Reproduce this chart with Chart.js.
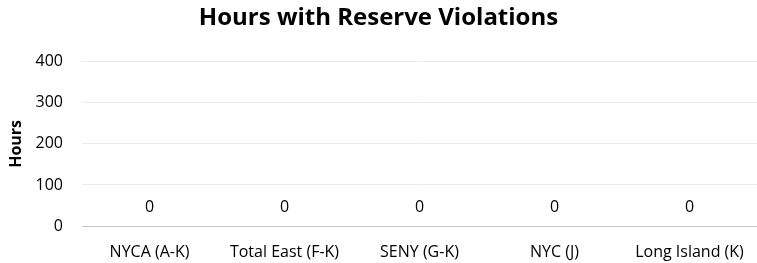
<!DOCTYPE html>
<html>
<head>
<meta charset="utf-8">
<script src="https://cdn.jsdelivr.net/npm/chart.js@4/dist/chart.umd.min.js"></script>
<style>
  html, body { margin: 0; padding: 0; background: #fff; }
  #wrap { width: 757px; height: 263px; }
</style>
</head>
<body>
<div id="wrap"><canvas id="hoursChart"></canvas></div>
<script>
categories = ['NYCA (A-K)', 'Total East (F-K)', 'SENY (G-K)', 'NYC (J)', 'Long Island (K)'];
hours = [0, 0, 0, 0, 0];
yMax = 400;
yStep = 100;

// Excel-style value labels sitting just above each (empty) bar
const valueLabels = {
  id: 'valueLabels',
  afterDatasetsDraw(chart){
    const ctx = chart.ctx;
    const meta = chart.getDatasetMeta(0);
    ctx.save();
    ctx.font = '16px "Open Sans"';
    ctx.fillStyle = '#000';
    ctx.textAlign = 'center';
    ctx.textBaseline = 'middle';
    meta.data.forEach((bar, i) => {
      ctx.fillText(String(hours[i]), bar.x, bar.y - 19);
    });
    ctx.restore();
  }
};

new Chart(document.getElementById('hoursChart'), {
  type: 'bar',
  data: {
    labels: categories,
    datasets: [{
      data: hours,
      backgroundColor: '#4472c4'
    }]
  },
  options: {
    responsive: true,
    maintainAspectRatio: false,
    animation: false,
    layout: { padding: { left: 0, right: 0, top: 0, bottom: 0 } },
    plugins: {
      legend: { display: false },
      tooltip: { enabled: false },
      title: {
        display: true,
        text: 'Hours with Reserve Violations',
        color: '#000',
        font: { family: 'Open Sans', size: 24, weight: 'bold' },
        padding: { top: 4, bottom: 29 }
      }
    },
    scales: {
      x: {
        grid: { display: false },
        border: { color: '#c8c8c8', width: 1 },
        ticks: {
          color: '#000',
          font: { family: 'Open Sans', size: 16 },
          padding: 9,
          maxRotation: 0,
          autoSkip: false
        },
        afterFit(scale){ scale.height = 37; }
      },
      y: {
        min: 0,
        max: yMax,
        border: { display: false },
        grid: { color: '#ebebeb', drawTicks: false },
        ticks: {
          stepSize: yStep,
          color: '#000',
          font: { family: 'Open Sans', size: 16 },
          padding: 19
        },
        title: {
          display: true,
          text: 'Hours',
          color: '#000',
          font: { family: 'Open Sans', size: 16, weight: 'bold' },
          padding: { top: 7, bottom: 0 }
        },
        afterFit(scale){ scale.width = 82; }
      }
    }
  },
  plugins: [valueLabels]
});
</script>
</body>
</html>
